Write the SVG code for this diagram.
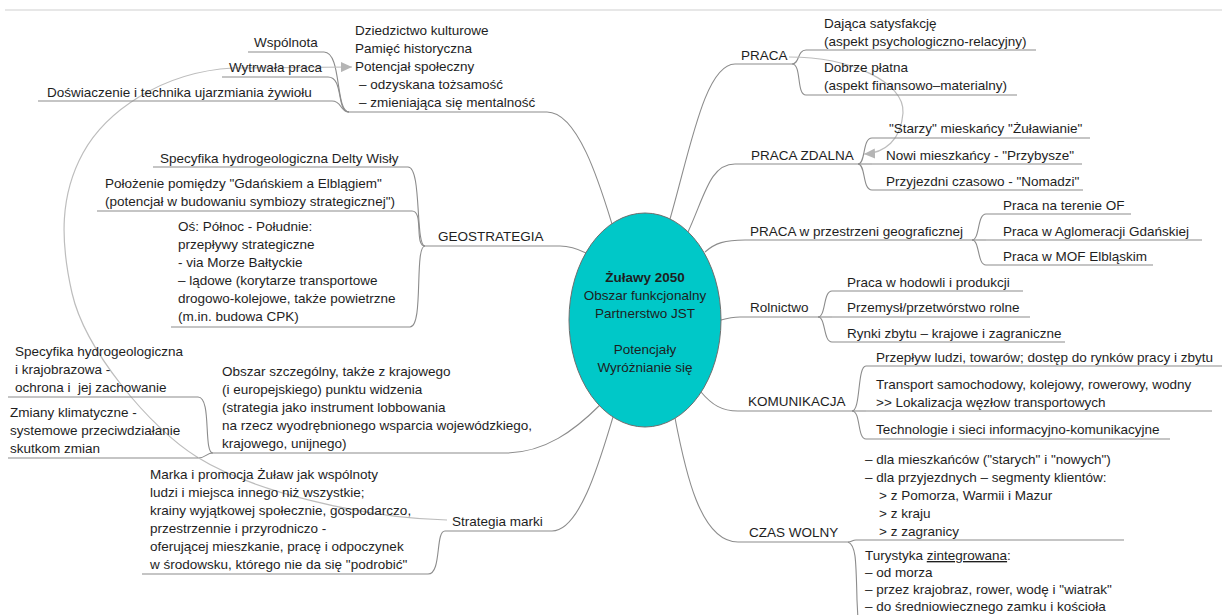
<svg xmlns="http://www.w3.org/2000/svg" width="1227" height="615" viewBox="0 0 1227 615">
<defs>
<style>
.t{font-family:"Liberation Sans",Arial,sans-serif;font-size:13.5px;fill:#1e1e1e}
.b{font-weight:bold}
.u{stroke:#8c8c8c;stroke-width:1.1;fill:none}
.c{stroke:#8c8c8c;stroke-width:1.1;fill:none}
.r{stroke:#bdbdbd;stroke-width:1.2;fill:none}
</style>
<marker id="ah" markerWidth="12" markerHeight="10" refX="11" refY="5" orient="auto" markerUnits="userSpaceOnUse"><path d="M0,0 L11,5 L0,10 z" fill="#b5b5b5"/></marker>
</defs>
<rect width="1227" height="615" fill="#ffffff"/>
<line x1="5" y1="10" x2="1222" y2="10" stroke="#cfcfcf" stroke-width="1.2"/>

<g id="connectors">
<path class="c" d="M547,112 C578,112 600,185 612,224"/>
<path class="c" d="M324,52 C342,52 335,112 349,112"/>
<path class="c" d="M328,77 C344,77 336,112 349,112"/>
<path class="c" d="M332,101 C342,101 340,112 349,112"/>
<path class="c" d="M560,246 C570,246 578,249 586,253"/>
<path class="c" d="M408,167 C422,167 415,246 425,246"/>
<path class="c" d="M412,211 C424,211 414,246 425,246"/>
<path class="c" d="M410,327 C424,327 414,246 425,246"/>
<path class="c" d="M505,453 C545,453 575,430 600,405"/>
<path class="c" d="M198,397 C212,397 203,453 213,453"/>
<path class="c" d="M198,458 C206,458 206,453 213,453"/>
<path class="c" d="M552,531 C580,531 600,460 613,417"/>
<path class="c" d="M428,574 C442,574 435,531 445,531"/>
<path class="c" d="M670,219 C690,150 705,64 735,64"/>
<path class="c" d="M792,64 C800,64 797,50 806,50"/>
<path class="c" d="M792,64 C802,64 796,95 806,95"/>
<path class="c" d="M688,232 C705,195 710,164 735,164"/>
<path class="c" d="M858,164 C866,164 862,138 872,138"/>
<path class="c" d="M858,164 H872"/>
<path class="c" d="M858,164 C866,164 862,190 872,190"/>
<path class="c" d="M705,252 C715,243 725,240 745,240"/>
<path class="c" d="M972,240 C980,240 977,214 986,214"/>
<path class="c" d="M972,240 H986"/>
<path class="c" d="M972,240 C980,240 977,265 986,265"/>
<path class="c" d="M721,320 C728,318 732,317 740,317"/>
<path class="c" d="M818,317 C826,317 823,291 832,291"/>
<path class="c" d="M818,317 H832"/>
<path class="c" d="M818,317 C826,317 823,342 832,342"/>
<path class="c" d="M701,392 C712,405 722,411 738,411"/>
<path class="c" d="M852,411 C861,411 857,366 866,366"/>
<path class="c" d="M852,411 H866"/>
<path class="c" d="M852,411 C861,411 857,439 866,439"/>
<path class="c" d="M675,418 C685,470 700,542 738,542"/>
<path class="c" d="M848,542 C852,542 852,540 856,540"/>
<path class="c" d="M848,542 C856,545 856,560 857,600 L858,620"/>
<path class="r" marker-end="url(#ah)" d="M447,520 C360,518 250,490 197,457 C150,428 85,350 72,293 C60,240 60,195 83,153 C105,113 160,72 233,68 L352,67"/>
<path class="r" marker-end="url(#ah)" d="M789,57 C850,57 905,82 903,113 C901,140 885,153 864,154"/>
</g>

<g id="center">
<ellipse cx="645" cy="320" rx="76" ry="107" fill="#00c8c8" stroke="#6e6e6e" stroke-width="1"/>
<text class="t" text-anchor="middle"><tspan class="b" x="645" y="282">Żuławy 2050</tspan><tspan x="645" y="300">Obszar funkcjonalny</tspan><tspan x="645" y="318">Partnerstwo JST</tspan><tspan x="645" y="354">Potencjały</tspan><tspan x="645" y="372">Wyróżnianie się</tspan></text>
</g>

<g id="dziedzictwo">
<text class="t"><tspan x="355" y="35">Dziedzictwo kulturowe</tspan><tspan x="355" y="53">Pamięć historyczna</tspan><tspan x="355" y="71">Potencjał społeczny</tspan><tspan x="359" y="89">– odzyskana tożsamość</tspan><tspan x="359" y="107">– zmieniająca się mentalność</tspan></text>
<path class="u" d="M349,112 H547"/>
</g>
<g id="wspolnota">
<text class="t" x="254" y="47">Wspólnota</text>
<path class="u" d="M248,52 H324"/>
</g>
<g id="wytrwala">
<text class="t" x="229" y="72">Wytrwała praca</text>
<path class="u" d="M222,77 H328"/>
</g>
<g id="doswiadczenie">
<text class="t" x="47" y="97">Doświaczenie i technika ujarzmiania żywiołu</text>
<path class="u" d="M38,101 H332"/>
</g>

<g id="geostrategia">
<text class="t" x="438" y="241">GEOSTRATEGIA</text>
<path class="u" d="M425,246 H560"/>
</g>
<g id="delta">
<text class="t" x="160" y="163">Specyfika hydrogeologiczna Delty Wisły</text>
<path class="u" d="M153,167 H408"/>
</g>
<g id="polozenie">
<text class="t"><tspan x="105" y="188">Położenie pomiędzy "Gdańskiem a Elblągiem"</tspan><tspan x="105" y="206">(potencjał w budowaniu symbiozy strategicznej")</tspan></text>
<path class="u" d="M97,211 H412"/>
</g>
<g id="os">
<text class="t"><tspan x="178" y="231">Oś: Północ - Południe:</tspan><tspan x="178" y="249">przepływy strategiczne</tspan><tspan x="178" y="267">- via Morze Bałtyckie</tspan><tspan x="178" y="285">– lądowe (korytarze transportowe</tspan><tspan x="178" y="303">drogowo-kolejowe, także powietrzne</tspan><tspan x="178" y="321">(m.in. budowa CPK)</tspan></text>
<path class="u" d="M171,327 H410"/>
</g>

<g id="obszar">
<text class="t"><tspan x="222" y="376">Obszar szczególny, także z krajowego</tspan><tspan x="222" y="394">(i europejskiego) punktu widzenia</tspan><tspan x="222" y="412">(strategia jako instrument lobbowania</tspan><tspan x="222" y="430">na rzecz wyodrębnionego wsparcia wojewódzkiego,</tspan><tspan x="222" y="448">krajowego, unijnego)</tspan></text>
<path class="u" d="M213,453 H505"/>
</g>
<g id="krajobraz">
<text class="t"><tspan x="15" y="356">Specyfika hydrogeologiczna</tspan><tspan x="15" y="374">i krajobrazowa -</tspan><tspan x="15" y="392">ochrona i&#160; jej zachowanie</tspan></text>
<path class="u" d="M8,397 H198"/>
</g>
<g id="klimat">
<text class="t"><tspan x="10" y="417">Zmiany klimatyczne -</tspan><tspan x="10" y="435">systemowe przeciwdziałanie</tspan><tspan x="10" y="453">skutkom zmian</tspan></text>
<path class="u" d="M8,458 H198"/>
</g>

<g id="strategia-marki">
<text class="t" x="452" y="526">Strategia marki</text>
<path class="u" d="M445,531 H552"/>
</g>
<g id="marka">
<text class="t"><tspan x="150" y="479">Marka i promocja Żuław jak wspólnoty</tspan><tspan x="150" y="497">ludzi i miejsca innego niż wszystkie;</tspan><tspan x="150" y="515">krainy wyjątkowej społecznie, gospodarczo,</tspan><tspan x="150" y="533">przestrzennie i przyrodniczo -</tspan><tspan x="150" y="551">oferującej mieszkanie, pracę i odpoczynek</tspan><tspan x="150" y="569">w środowsku, którego nie da się "podrobić"</tspan></text>
<path class="u" d="M142,574 H428"/>
</g>

<g id="praca">
<text class="t" x="741" y="60">PRACA</text>
<path class="u" d="M735,64 H792"/>
</g>
<g id="satysfakcja">
<text class="t"><tspan x="824" y="28">Dająca satysfakcję</tspan><tspan x="824" y="46">(aspekt psychologiczno-relacyjny)</tspan></text>
<path class="u" d="M806,50 H1036"/>
</g>
<g id="platna">
<text class="t"><tspan x="824" y="72">Dobrze płatna</tspan><tspan x="824" y="90">(aspekt finansowo–materialny)</tspan></text>
<path class="u" d="M806,95 H1017"/>
</g>

<g id="praca-zdalna">
<text class="t" x="751" y="160">PRACA ZDALNA</text>
<path class="u" d="M735,164 H858"/>
</g>
<g id="starzy">
<text class="t" x="889" y="133">"Starzy" mieskańcy "Żuławianie"</text>
<path class="u" d="M872,138 H1090"/>
</g>
<g id="nowi">
<text class="t" x="886" y="160">Nowi mieszkańcy - "Przybysze"</text>
<path class="u" d="M872,164 H1082"/>
</g>
<g id="przyjezdni">
<text class="t" x="886" y="186">Przyjezdni czasowo - "Nomadzi"</text>
<path class="u" d="M872,190 H1083"/>
</g>

<g id="praca-geo">
<text class="t" x="750" y="236">PRACA w przestrzeni geograficznej</text>
<path class="u" d="M745,240 H972"/>
</g>
<g id="of">
<text class="t" x="1003" y="210">Praca na terenie OF</text>
<path class="u" d="M986,214 H1131"/>
</g>
<g id="gdanska">
<text class="t" x="1003" y="236">Praca w Aglomeracji Gdańskiej</text>
<path class="u" d="M986,240 H1202"/>
</g>
<g id="elblag">
<text class="t" x="1003" y="261">Praca w MOF Elbląskim</text>
<path class="u" d="M986,265 H1153"/>
</g>

<g id="rolnictwo">
<text class="t" x="750" y="312">Rolnictwo</text>
<path class="u" d="M740,317 H818"/>
</g>
<g id="hodowla">
<text class="t" x="847" y="287">Praca w hodowli i produkcji</text>
<path class="u" d="M832,291 H1023"/>
</g>
<g id="przemysl">
<text class="t" x="847" y="312">Przemysł/przetwórstwo rolne</text>
<path class="u" d="M832,317 H1030"/>
</g>
<g id="rynki">
<text class="t" x="847" y="338">Rynki zbytu – krajowe i zagraniczne</text>
<path class="u" d="M832,342 H1065"/>
</g>

<g id="komunikacja">
<text class="t" x="748" y="406">KOMUNIKACJA</text>
<path class="u" d="M738,411 H852"/>
</g>
<g id="przeplyw">
<text class="t" x="876" y="362">Przepływ ludzi, towarów; dostęp do rynków pracy i zbytu</text>
<path class="u" d="M866,366 H1222"/>
</g>
<g id="transport">
<text class="t"><tspan x="876" y="389">Transport samochodowy, kolejowy, rowerowy, wodny</tspan><tspan x="876" y="407">&gt;&gt; Lokalizacja węzłow transportowych</tspan></text>
<path class="u" d="M866,411 H1212"/>
</g>
<g id="technologie">
<text class="t" x="876" y="434">Technologie i sieci informacyjno-komunikacyjne</text>
<path class="u" d="M866,439 H1170"/>
</g>

<g id="czas-wolny">
<text class="t" x="749" y="537">CZAS WOLNY</text>
<path class="u" d="M738,542 H848"/>
</g>
<g id="segmenty">
<text class="t"><tspan x="865" y="464">– dla mieszkańców ("starych" i "nowych")</tspan><tspan x="865" y="482">– dla przyjezdnych – segmenty klientów:</tspan><tspan x="879" y="500">&gt; z Pomorza, Warmii i Mazur</tspan><tspan x="879" y="518">&gt; z kraju</tspan><tspan x="879" y="536">&gt; z zagranicy</tspan></text>
<path class="u" d="M856,540 H1124"/>
</g>
<g id="turystyka">
<text class="t"><tspan x="865" y="560">Turystyka <tspan text-decoration="underline">zintegrowana</tspan>:</tspan><tspan x="865" y="577">– od morza</tspan><tspan x="865" y="594">– przez krajobraz, rower, wodę i "wiatrak"</tspan><tspan x="865" y="611">– do średniowiecznego zamku i kościoła</tspan></text>
</g>
</svg>
